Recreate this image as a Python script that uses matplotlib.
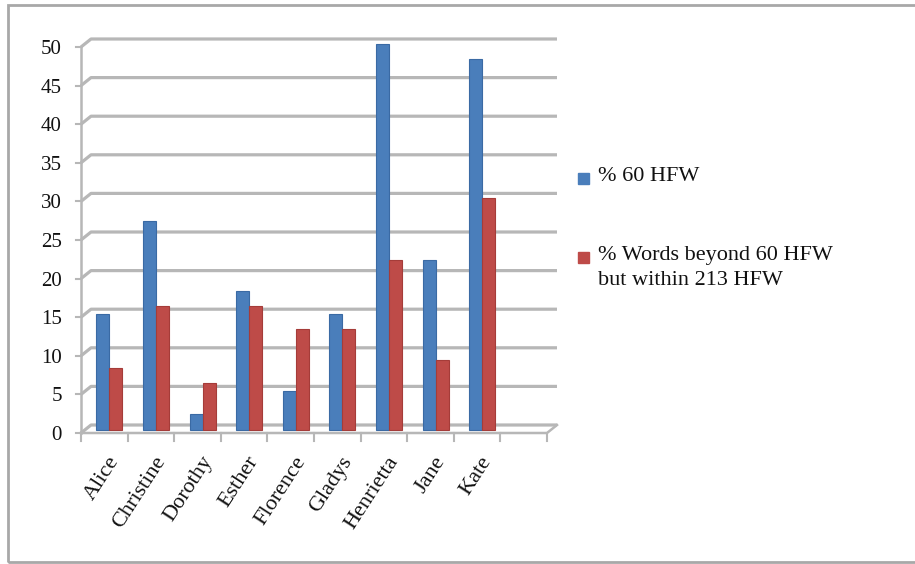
import numpy as np
import matplotlib
matplotlib.use("Agg")
import matplotlib.pyplot as plt
from matplotlib.patches import Rectangle

names = ["Alice", "Christine", "Dorothy", "Esther", "Florence",
         "Gladys", "Henrietta", "Jane", "Kate"]
hfw60 = [15, 27, 2, 18, 5, 15, 50, 22, 48]
hfw213 = [8, 16, 6, 16, 13, 13, 22, 9, 30]
series = ["% 60 HFW", "% Words beyond 60 HFW\nbut within 213 HFW"]
colors = ["#4A7EBB", "#BE4B48"]
edges = ["#3A6AA4", "#A53C39"]
yticks = np.arange(0, 55, 5)

nslots = 10  # one empty slot on the right, as the sheet had it
W, H = 915, 564
fig = plt.figure(figsize=(W / 100, H / 100), dpi=100)

# front plane of the pseudo-3d box, in pixels
x0, x1 = 81, 547
y0, y1 = 433, 47
ax = fig.add_axes([x0 / W, 1 - y0 / H, (x1 - x0) / W, (y0 - y1) / H])
ax.set_xlim(-0.5, nslots - 0.5)
ax.set_ylim(0, 50)
ax.axis("off")

pxx = (x1 - x0) / nslots
pxy = (y0 - y1) / 50.0
dx = 10 / pxx   # depth offset of the back wall
dy = 8 / pxy
gc = "#b7b7b7"
font = "Liberation Serif"

# back wall gridlines with their slanted lead-ins
for v in yticks:
    ax.plot([-0.5, -0.5 + dx, nslots - 0.5 + dx], [v, v + dy, v + dy],
            color=gc, lw=2.3, clip_on=False, zorder=1, solid_capstyle="butt")
    ax.plot([-0.5 - 5 / pxx, -0.5], [v, v], color=gc, lw=1.5, clip_on=False)
    ax.text(-0.5 - 19 / pxx, v - 2.5 / pxy, str(v), ha="right", va="center",
            fontsize=15, family=font, color="#111111")

# value axis and floor
ax.plot([-0.5, -0.5], [0, 50], color=gc, lw=1.8, clip_on=False, zorder=1)
ax.plot([-0.5, nslots - 0.5, nslots - 0.5 + dx], [0, 0, dy],
        color=gc, lw=1.8, clip_on=False, zorder=1)
for i in range(nslots + 1):
    ax.plot([i - 0.5, i - 0.5], [0, -8 / pxy], color=gc, lw=1.5, clip_on=False)

# bars
x = np.arange(len(names))
bw = 13 / pxx
lift = 0.4 * dy
ax.bar(x - 0.03, hfw60, bw, bottom=lift, color=colors[0], edgecolor=edges[0],
       lw=0.8, zorder=3, clip_on=False)
ax.bar(x - 0.03 + bw, hfw213, bw, bottom=lift, color=colors[1],
       edgecolor=edges[1], lw=0.8, zorder=3, clip_on=False)

for i, n in enumerate(names):
    ax.text(i + 0.06, -20 / pxy, n, rotation=57, rotation_mode="anchor",
            ha="right", va="top", fontsize=16, family=font, color="#111111")

# legend
leg_y = [178, 257]
for c, s, ly in zip(colors, series, leg_y):
    fig.patches.append(Rectangle((578 / W, 1 - (ly + 5.5) / H), 11 / W, 11 / H,
                                 transform=fig.transFigure, color=c))
    fig.text(598 / W, 1 - (ly - 11) / H, s, ha="left", va="top",
             fontsize=16, family=font, color="#111111", linespacing=1.4)

# outer frame
fig.patches.append(Rectangle((8 / W, 1 - 562 / H), 1.0, 557 / H,
                             transform=fig.transFigure, fill=False,
                             edgecolor="#a8a8a8", lw=2))

fig.savefig("out.png", dpi=100)
